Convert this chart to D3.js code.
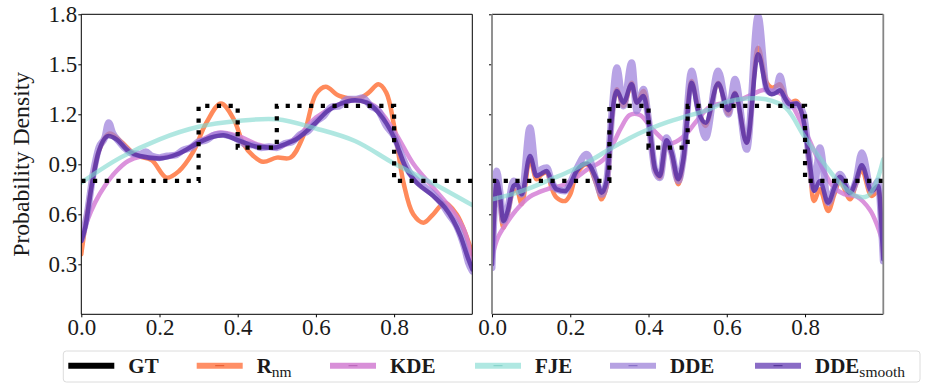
<!DOCTYPE html>
<html>
<head>
<meta charset="utf-8">
<script src="https://cdn.jsdelivr.net/npm/d3@7"></script>
<style>
  body { margin: 0; background: #fff; }
  svg { display: block; }
  text { font-family: "Liberation Serif", "DejaVu Serif", serif; fill: #1a1a1a; }
</style>
</head>
<body>
<svg id="chart" width="925" height="383"></svg>
<script>
// ---------- ground truth (piecewise-constant density) ----------
const gtEdges  = [0, 0.3, 0.4, 0.5, 0.8, 1.0];
const gtLevels = [0.8, 1.25, 1.0, 1.25, 0.8];

// ---------- left panel ----------
const rnmLeftX = [0, 0.02, 0.045, 0.072, 0.1, 0.14, 0.18, 0.218, 0.25, 0.285, 0.32, 0.357, 0.39, 0.415, 0.44, 0.465, 0.5, 0.535, 0.568, 0.6, 0.625, 0.66, 0.71, 0.735, 0.76, 0.78, 0.8, 0.824, 0.849, 0.875, 0.9, 0.93, 0.96, 0.985, 1.0];
const rnmLeft  = [0.36, 0.68, 0.98, 1.085, 1.04, 0.955, 0.925, 0.82, 0.86, 0.97, 1.15, 1.265, 1.17, 1.02, 0.95, 0.915, 0.94, 0.94, 1.07, 1.32, 1.365, 1.31, 1.295, 1.33, 1.38, 1.33, 1.13, 0.79, 0.6, 0.55, 0.6, 0.67, 0.6, 0.47, 0.36];

const kdeLeftX = [0, 0.015, 0.035, 0.06, 0.09, 0.12, 0.15, 0.2, 0.25, 0.3, 0.35, 0.4, 0.45, 0.5, 0.55, 0.6, 0.65, 0.7, 0.75, 0.8, 0.85, 0.9, 0.95, 0.98, 1.0];
const kdeLeft  = [0.45, 0.56, 0.67, 0.77, 0.86, 0.92, 0.945, 0.94, 0.965, 1.035, 1.09, 1.07, 1.02, 1.0, 1.06, 1.18, 1.25, 1.285, 1.25, 1.1, 0.9, 0.76, 0.62, 0.5, 0.3];

const fjeLeftX = [0, 0.1, 0.2, 0.3, 0.4, 0.5, 0.6, 0.7, 0.8, 0.9, 1.0];
const fjeLeft  = [0.79, 0.94, 1.05, 1.125, 1.16, 1.17, 1.115, 1.04, 0.905, 0.785, 0.655];

const ddeLeftX = [0, 0.015, 0.03, 0.045, 0.06, 0.07, 0.08, 0.095, 0.11, 0.13, 0.15, 0.165, 0.18, 0.2, 0.22, 0.24, 0.26, 0.28, 0.3, 0.32, 0.34, 0.36, 0.38, 0.4, 0.42, 0.44, 0.46, 0.48, 0.5, 0.52, 0.54, 0.56, 0.58, 0.6, 0.62, 0.64, 0.66, 0.68, 0.7, 0.72, 0.74, 0.76, 0.78, 0.8, 0.82, 0.84, 0.86, 0.88, 0.9, 0.92, 0.94, 0.96, 0.98, 0.99, 1.0];
const ddeLeft  = [0.45, 0.6, 0.84, 1.0, 1.06, 1.15, 1.09, 1.04, 1.0, 0.965, 0.96, 0.975, 0.95, 0.94, 0.95, 0.955, 0.985, 1.0, 1.035, 1.045, 1.075, 1.08, 1.07, 1.05, 1.02, 1.015, 1.0, 1.005, 1.0, 1.025, 1.035, 1.08, 1.1, 1.155, 1.19, 1.245, 1.25, 1.29, 1.29, 1.3, 1.25, 1.22, 1.13, 1.07, 0.95, 0.85, 0.8, 0.76, 0.72, 0.67, 0.6, 0.53, 0.4, 0.31, 0.26];

const smoothLeftX = [0, 0.01, 0.025, 0.045, 0.07, 0.09, 0.12, 0.15, 0.2, 0.25, 0.3, 0.33, 0.363, 0.4, 0.45, 0.49, 0.52, 0.55, 0.6, 0.63, 0.66, 0.7, 0.73, 0.76, 0.8, 0.83, 0.85, 0.9, 0.93, 0.95, 0.97, 0.99, 1.0];
const smoothLeft  = [0.44, 0.52, 0.75, 0.98, 1.07, 1.05, 0.98, 0.95, 0.935, 0.965, 1.03, 1.06, 1.075, 1.045, 1.005, 1.0, 1.02, 1.05, 1.15, 1.22, 1.26, 1.285, 1.27, 1.21, 1.06, 0.88, 0.81, 0.71, 0.64, 0.57, 0.47, 0.33, 0.27];

// ---------- right panel ----------
const fjeRightX = [0, 0.05, 0.1, 0.15, 0.2, 0.25, 0.3, 0.35, 0.4, 0.45, 0.5, 0.55, 0.6, 0.65, 0.7, 0.75, 0.8, 0.85, 0.89, 0.93, 0.96, 0.98, 1.0];
const fjeRight  = [0.69, 0.72, 0.76, 0.81, 0.86, 0.92, 0.99, 1.055, 1.11, 1.155, 1.19, 1.225, 1.275, 1.295, 1.29, 1.24, 1.06, 0.9, 0.785, 0.71, 0.71, 0.78, 0.93];

const kdeRightX = [0, 0.015, 0.037, 0.06, 0.097, 0.14, 0.182, 0.215, 0.242, 0.284, 0.31, 0.33, 0.352, 0.378, 0.412, 0.455, 0.489, 0.523, 0.557, 0.6, 0.634, 0.665, 0.693, 0.72, 0.736, 0.76, 0.787, 0.81, 0.83, 0.85, 0.872, 0.9, 0.932, 0.966, 0.985, 1.0];
const kdeRight  = [0.34, 0.46, 0.546, 0.62, 0.706, 0.75, 0.776, 0.82, 0.866, 0.926, 1.026, 1.12, 1.196, 1.196, 1.106, 1.026, 1.066, 1.16, 1.246, 1.27, 1.286, 1.32, 1.346, 1.34, 1.326, 1.28, 1.166, 1.05, 0.946, 0.85, 0.766, 0.72, 0.706, 0.626, 0.53, 0.42];

// shared sample positions for the three sample-based estimators
const rightX = [0, 0.006, 0.012, 0.02, 0.029, 0.04, 0.055, 0.064, 0.076, 0.097, 0.114, 0.127, 0.14, 0.152, 0.165, 0.187, 0.2, 0.216, 0.242, 0.267, 0.28, 0.293, 0.306, 0.319, 0.336, 0.357, 0.37, 0.387, 0.4, 0.417, 0.429, 0.446, 0.459, 0.476, 0.489, 0.51, 0.527, 0.546, 0.578, 0.604, 0.621, 0.651, 0.68, 0.702, 0.715, 0.727, 0.736, 0.75, 0.761, 0.778, 0.796, 0.813, 0.823, 0.838, 0.859, 0.875, 0.889, 0.915, 0.93, 0.945, 0.97, 0.987, 0.995, 1.0];
const rnmRight    = [0.33, 0.6, 0.78, 0.68, 0.52, 0.6, 0.74, 0.74, 0.66, 0.93, 0.81, 0.84, 0.85, 0.76, 0.7, 0.68, 0.72, 0.84, 0.9, 0.78, 0.69, 0.77, 1.16, 1.35, 1.25, 1.39, 1.27, 1.34, 1.18, 0.86, 0.82, 1.04, 0.96, 0.78, 0.92, 1.4, 1.24, 1.13, 1.39, 1.2, 1.33, 1.03, 1.6, 1.39, 1.36, 1.37, 1.38, 1.31, 1.27, 1.28, 1.17, 0.86, 0.68, 0.75, 0.62, 0.72, 0.8, 0.69, 0.78, 0.87, 0.71, 0.74, 0.55, 0.35];
const ddeRight    = [0.28, 0.66, 0.86, 0.74, 0.56, 0.63, 0.8, 0.78, 0.72, 1.12, 0.84, 0.87, 0.88, 0.8, 0.75, 0.74, 0.79, 0.87, 0.96, 0.8, 0.72, 0.8, 1.2, 1.48, 1.25, 1.51, 1.22, 1.35, 1.17, 0.86, 0.82, 1.06, 0.97, 0.8, 0.94, 1.46, 1.24, 1.06, 1.46, 1.2, 1.41, 0.99, 1.79, 1.35, 1.33, 1.35, 1.43, 1.28, 1.25, 1.26, 1.2, 0.89, 0.75, 1.0, 0.67, 0.76, 0.84, 0.73, 0.8, 0.97, 0.74, 0.8, 0.55, 0.32];
const smoothRight = [0.3, 0.62, 0.8, 0.72, 0.56, 0.62, 0.77, 0.78, 0.72, 0.95, 0.83, 0.845, 0.86, 0.8, 0.75, 0.74, 0.78, 0.86, 0.905, 0.81, 0.73, 0.8, 1.18, 1.34, 1.27, 1.38, 1.27, 1.31, 1.17, 0.87, 0.83, 1.045, 0.97, 0.81, 0.93, 1.39, 1.22, 1.15, 1.385, 1.225, 1.325, 1.03, 1.56, 1.35, 1.32, 1.33, 1.345, 1.29, 1.26, 1.265, 1.165, 0.89, 0.74, 0.8, 0.67, 0.76, 0.825, 0.73, 0.8, 0.895, 0.74, 0.77, 0.55, 0.33];

// ---------- axes ----------
const xTicks = [0, 0.2, 0.4, 0.6, 0.8];
const yTicks = [0.3, 0.6, 0.9, 1.2, 1.5, 1.8];
const yLabel = "Probability Density";

// ---------- legend ----------
const legendMain = ["GT", "R", "KDE", "FJE", "DDE", "DDE"];
const legendSub  = ["", "nm", "", "", "", "smooth"];

// ---------- styles ----------
const styles = {
  rnm:    { stroke: "#ff8a5b", width: 4.5, opacity: 1.0,  curve: d3.curveCatmullRom },
  kde:    { stroke: "#d57fd6", width: 4.5, opacity: 0.85, curve: d3.curveCatmullRom },
  dde:    { stroke: "#9d80db", width: 7,   opacity: 0.72, curve: d3.curveMonotoneX },
  smooth: { stroke: "#5a32a6", width: 4.5, opacity: 0.85, curve: d3.curveMonotoneX },
  fje:    { stroke: "#7fd8cf", width: 4.5, opacity: 0.62, curve: d3.curveCatmullRom }
};
const legendColors = ["#000000", "#ff8f66", "#d890d8", "#b0e8e2", "#b6a2e2", "#8a6cc6"];
const legendInner  = [null, "#e3552b", "#b461b4", "#7fcfc6", "#7f66c2", "#4a2c90"];

const zip = (xs, ys) => xs.map((v, i) => [v, ys[i]]);

const panels = [
  { x0: 81.3, x1: 472.3, showYLabels: true, sideStroke: "#000", sideWidth: 1,
    series: [
      ["rnm", zip(rnmLeftX, rnmLeft)],
      ["kde", zip(kdeLeftX, kdeLeft)],
      ["dde", zip(ddeLeftX, ddeLeft)],
      ["smooth", zip(smoothLeftX, smoothLeft)],
      ["fje", zip(fjeLeftX, fjeLeft)]
    ] },
  { x0: 492, x1: 883.3, showYLabels: false, sideStroke: "#858585", sideWidth: 1.8,
    series: [
      ["rnm", zip(rightX, rnmRight)],
      ["kde", zip(kdeRightX, kdeRight)],
      ["dde", zip(rightX, ddeRight)],
      ["smooth", zip(rightX, smoothRight)],
      ["fje", zip(fjeRightX, fjeRight)]
    ] }
];

const svg = d3.select("#chart");
const yTop = 14.3, yBot = 314.3;
const y = d3.scaleLinear().domain([0, 1.8]).range([yBot, yTop]);

const gtPoints = gtLevels.map((v, i) => [gtEdges[i], v]).concat([[gtEdges[gtEdges.length - 1], gtLevels[gtLevels.length - 1]]]);

panels.forEach((p, pi) => {
  const x = d3.scaleLinear().domain([0, 1]).range([p.x0, p.x1]);
  const g = svg.append("g");
  const clipId = "clip" + pi;
  svg.append("defs").append("clipPath").attr("id", clipId)
    .append("rect").attr("x", p.x0).attr("y", yTop).attr("width", p.x1 - p.x0).attr("height", yBot - yTop);

  const plot = g.append("g").attr("clip-path", `url(#${clipId})`);
  p.series.forEach(([key, pts]) => {
    const s = styles[key];
    const line = d3.line().x(d => x(d[0])).y(d => y(d[1])).curve(s.curve);
    plot.append("path").attr("d", line(pts))
      .attr("fill", "none").attr("stroke", s.stroke).attr("stroke-width", s.width)
      .attr("stroke-opacity", s.opacity).attr("stroke-linejoin", "round").attr("stroke-linecap", "round");
  });
  const gtLine = d3.line().x(d => x(d[0])).y(d => y(d[1])).curve(d3.curveStepAfter);
  plot.append("path").attr("d", gtLine(gtPoints))
    .attr("fill", "none").attr("stroke", "#000").attr("stroke-width", 4.2)
    .attr("stroke-dasharray", "4.2,7.5").attr("stroke-linecap", "butt");

  // axes
  const xAxis = d3.axisBottom(x).tickValues(xTicks).tickFormat(d3.format(".1f")).tickSize(3).tickPadding(2);
  const gx = g.append("g").attr("transform", `translate(0,${yBot})`).call(xAxis);
  gx.select(".domain").remove();
  gx.selectAll("text").attr("font-size", 23).attr("y", 20.7).attr("dy", 0)
    .style("font-family", '"Liberation Serif", serif').attr("fill", "#1a1a1a");
  gx.selectAll("line").attr("stroke", "#000");

  const yAxis = d3.axisLeft(y).tickValues(yTicks).tickSize(3).tickPadding(1)
    .tickFormat(p.showYLabels ? d3.format(".1f") : () => "");
  const gy = g.append("g").attr("transform", `translate(${p.x0},0)`).call(yAxis);
  gy.select(".domain").remove();
  gy.selectAll("text").attr("font-size", 23).attr("dy", "0.31em")
    .style("font-family", '"Liberation Serif", serif').attr("fill", "#1a1a1a");
  gy.selectAll("line").attr("stroke", "#000");

  // frame
  g.append("line").attr("x1", p.x0).attr("x2", p.x1).attr("y1", yTop).attr("y2", yTop).attr("stroke", "#000").attr("stroke-width", 1);
  g.append("line").attr("x1", p.x0).attr("x2", p.x1).attr("y1", yBot).attr("y2", yBot).attr("stroke", "#000").attr("stroke-width", 1);
  g.append("line").attr("x1", p.x0).attr("x2", p.x0).attr("y1", yTop).attr("y2", yBot).attr("stroke", p.sideStroke).attr("stroke-width", p.sideWidth);
  g.append("line").attr("x1", p.x1).attr("x2", p.x1).attr("y1", yTop).attr("y2", yBot).attr("stroke", p.sideStroke).attr("stroke-width", p.sideWidth);
});

// y-axis title
svg.append("text")
  .attr("transform", `translate(29,${(yTop + yBot) / 2}) rotate(-90)`)
  .attr("text-anchor", "middle").attr("font-size", 23)
  .attr("textLength", 185).attr("lengthAdjust", "spacingAndGlyphs")
  .text(yLabel);

// legend
const lg = svg.append("g");
lg.append("rect").attr("x", 63.3).attr("y", 351).attr("width", 856.7).attr("height", 31)
  .attr("rx", 3).attr("fill", "#fff").attr("stroke", "#dcdcdc").attr("stroke-width", 1);
const handleX = [68.3, 196.7, 330, 475, 610, 755];
const handleLen = 46, legendY = 365.7;
legendMain.forEach((name, i) => {
  const hx = handleX[i];
  lg.append("line").attr("x1", hx).attr("x2", hx + handleLen).attr("y1", legendY).attr("y2", legendY)
    .attr("stroke", legendColors[i]).attr("stroke-width", 6);
  if (legendInner[i]) {
    lg.append("line").attr("x1", hx + handleLen / 2 - 4.5).attr("x2", hx + handleLen / 2 + 4.5)
      .attr("y1", legendY).attr("y2", legendY).attr("stroke", legendInner[i]).attr("stroke-width", 1);
  }
  const t = lg.append("text").attr("x", hx + handleLen + 14).attr("y", 372.7)
    .attr("font-size", 21).attr("font-weight", "bold");
  t.append("tspan").text(name);
  if (legendSub[i]) {
    t.append("tspan").attr("font-size", 15.5).attr("font-weight", "normal").attr("dy", 4).text(legendSub[i]);
  }
});
</script>
</body>
</html>
